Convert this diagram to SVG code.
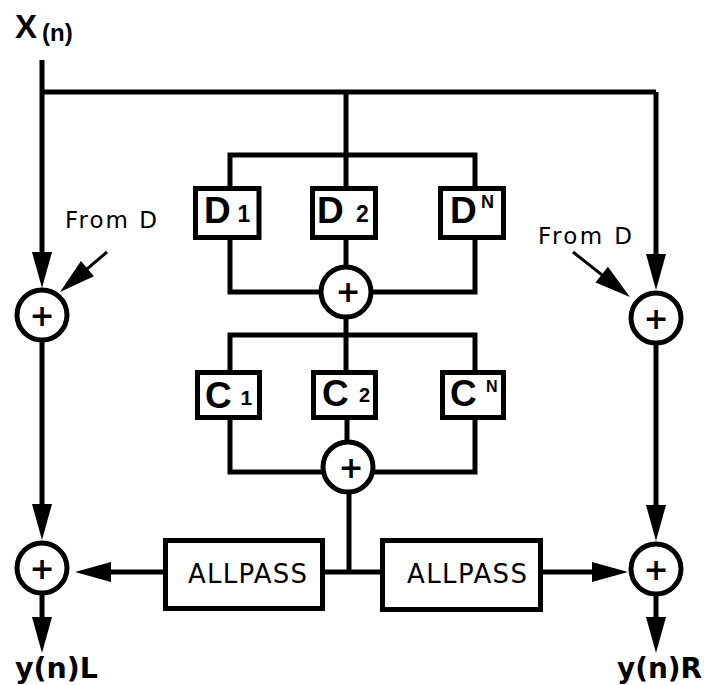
<svg xmlns="http://www.w3.org/2000/svg" width="704" height="685" viewBox="0 0 704 685">
<style>
.ln{fill:none;stroke:#000;stroke-width:5}
.thin{fill:none;stroke:#000;stroke-width:3}
.box{fill:#fff;stroke:#000;stroke-width:5}
.sum{fill:#fff;stroke:#000;stroke-width:5}
.plus{font-family:"DejaVu Sans",sans-serif;font-weight:bold;font-size:30px;text-anchor:middle;fill:#000}
.big{font-family:"Liberation Sans",Arial,sans-serif;font-weight:bold;fill:#000}
.lbl{font-family:"DejaVu Sans","Liberation Sans",sans-serif;fill:#000}
.out{font-family:"DejaVu Sans","Liberation Sans",sans-serif;font-weight:bold;fill:#000}
</style>
<defs>
<marker id="ah" markerUnits="userSpaceOnUse" markerWidth="36" markerHeight="20" refX="20" refY="10" orient="auto" overflow="visible">
<path d="M0,0 L36,10 L0,20 Z" fill="#000"/>
</marker>
</defs>
<rect width="704" height="685" fill="#fff"/>

<g id="connectors">
<path class="ln" d="M42,92 H656"/>
<path class="ln" d="M42,60 V272" marker-end="url(#ah)"/>
<path class="ln" d="M656,92 V274" marker-end="url(#ah)"/>
<path class="ln" d="M346,92 V186"/>
<path class="ln" d="M230,186 V155 H475 V186"/>
<path class="ln" d="M230,240 V292 H321"/>
<path class="ln" d="M371,292 H475 V240"/>
<path class="ln" d="M346,240 V267"/>
<path class="ln" d="M346,317 V370"/>
<path class="ln" d="M230,370 V335 H475 V370"/>
<path class="ln" d="M230,420 V472 H324"/>
<path class="ln" d="M372,472 H475 V420"/>
<path class="ln" d="M347,420 V442"/>
<path class="ln" d="M349,492 V572"/>
<path class="ln" d="M325,572 H380"/>
<path class="ln" d="M163,572 H91" marker-end="url(#ah)"/>
<path class="ln" d="M543,572 H612" marker-end="url(#ah)"/>
<path class="thin" d="M107,252 L72.2,281.6" marker-end="url(#ah)"/>
<path class="thin" d="M573,252 L617.4,287.1" marker-end="url(#ah)"/>
<path class="ln" d="M42,340 V524" marker-end="url(#ah)"/>
<path class="ln" d="M656,344 V525" marker-end="url(#ah)"/>
<path class="ln" d="M42,595 V637" marker-end="url(#ah)"/>
<path class="ln" d="M656,596 V637" marker-end="url(#ah)"/>
</g>

<g id="input">
<text class="big" x="15" y="38" font-size="33">X</text>
<text class="big" x="42" y="41" font-size="24">(n)</text>
</g>

<g id="d1"><rect class="box" x="195.5" y="188.5" width="63.5" height="49"/>
<text class="big" x="204" y="223" font-size="37">D</text><text class="big" x="237.5" y="222" font-size="23">1</text></g>
<g id="d2"><rect class="box" x="312.5" y="188.5" width="63" height="49"/>
<text class="big" x="317" y="223" font-size="37">D</text><text class="big" x="356" y="222" font-size="23">2</text></g>
<g id="dn"><rect class="box" x="440.5" y="188.5" width="63" height="49"/>
<text class="big" x="450" y="223" font-size="37">D</text><text class="big" x="481" y="208" font-size="18">N</text></g>

<g id="dsum"><circle class="sum" cx="346" cy="292" r="25"/><text class="plus" x="348" y="302">+</text></g>

<g id="c1"><rect class="box" x="197.5" y="372.5" width="62" height="45"/>
<text class="big" x="205" y="408" font-size="37">C</text><text class="big" x="240.5" y="405" font-size="21">1</text></g>
<g id="c2"><rect class="box" x="313.5" y="372.5" width="62" height="45"/>
<text class="big" x="322" y="406" font-size="37">C</text><text class="big" x="359" y="402" font-size="20">2</text></g>
<g id="cn"><rect class="box" x="442.5" y="372.5" width="61" height="45"/>
<text class="big" x="450" y="406" font-size="37">C</text><text class="big" x="486" y="392" font-size="16">N</text></g>

<g id="csum"><circle class="sum" cx="348" cy="467" r="25"/><text class="plus" x="351" y="477.5">+</text></g>

<g id="allpassL"><rect class="box" x="165.5" y="540.5" width="157" height="68"/>
<text class="lbl" x="188" y="583" font-size="26" textLength="119" lengthAdjust="spacing">ALLPASS</text></g>
<g id="allpassR"><rect class="box" x="382.5" y="540.5" width="158" height="69"/>
<text class="lbl" x="407" y="583" font-size="26" textLength="120" lengthAdjust="spacing">ALLPASS</text></g>

<g id="sumUL"><circle class="sum" cx="42" cy="315" r="25"/><text class="plus" x="42" y="325.5">+</text></g>
<g id="sumUR"><circle class="sum" cx="656" cy="318" r="25"/><text class="plus" x="656" y="328.5">+</text></g>
<g id="sumLL"><circle class="sum" cx="42" cy="568" r="25"/><text class="plus" x="42" y="578.5">+</text></g>
<g id="sumLR"><circle class="sum" cx="656" cy="569" r="25"/><text class="plus" x="656" y="579.5">+</text></g>

<g id="fromDL"><text class="lbl" x="65" y="228" font-size="23" textLength="92" lengthAdjust="spacing">From D</text></g>
<g id="fromDR"><text class="lbl" x="538" y="244" font-size="23" textLength="94" lengthAdjust="spacing">From D</text></g>

<g id="outL"><text class="out" x="15" y="678" font-size="29" textLength="83" lengthAdjust="spacingAndGlyphs">y(n)L</text></g>
<g id="outR"><text class="out" x="617" y="678" font-size="29" textLength="85" lengthAdjust="spacingAndGlyphs">y(n)R</text></g>
</svg>
